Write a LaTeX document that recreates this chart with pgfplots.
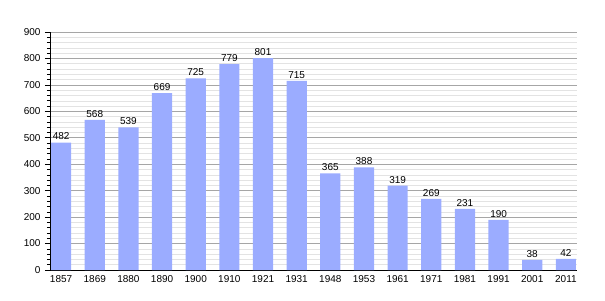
\documentclass[border=0pt]{standalone}
\usepackage{pgfplots}
\pgfplotsset{compat=1.18}
\usepackage{fontspec}
\setmainfont{Liberation Sans}
\definecolor{barc}{RGB}{155,172,255}
\begin{document}
\begin{tikzpicture}[x=1pt,y=1pt]
\useasboundingbox (0,0) rectangle (605,300);
\begin{axis}[
  at={(50pt,30pt)}, anchor=south west,
  scale only axis, width=527pt, height=238pt,
  xmin=-0.33, xmax=15.33, ymin=0, ymax=900,
  axis x line*=bottom, axis y line*=left,
  axis line style={black, line width=0.8pt, -},
  xtick={0,...,15},
  xticklabels={1857,1869,1880,1890,1900,1910,1921,1931,1948,1953,1961,1971,1981,1991,2001,2011},
  x tick style={draw=none},
  ytick={0,100,...,900},
  minor y tick num=4,
  tick align=outside,
  major tick length=5pt, minor tick length=3pt,
  y tick style={black, line width=0.6pt},
  ymajorgrids, yminorgrids,
  major grid style={gray!70, line width=0.6pt},
  minor grid style={gray!22, line width=0.5pt},
  tick label style={font=\fontsize{10}{12}\selectfont},
  /pgf/number format/assume math mode=true,
  yticklabel style={xshift=-1pt},
  xticklabel style={yshift=3pt},
  nodes near coords,
  every node near coord/.style={font=\fontsize{10}{12}\selectfont, black, yshift=-1pt},
]
\addplot[ybar, bar width=0.6, fill=barc, draw=none] coordinates {
(0,482)(1,568)(2,539)(3,669)(4,725)(5,779)(6,801)(7,715)(8,365)(9,388)(10,319)(11,269)(12,231)(13,190)(14,38)(15,42)};
\end{axis}
\end{tikzpicture}
\end{document}
